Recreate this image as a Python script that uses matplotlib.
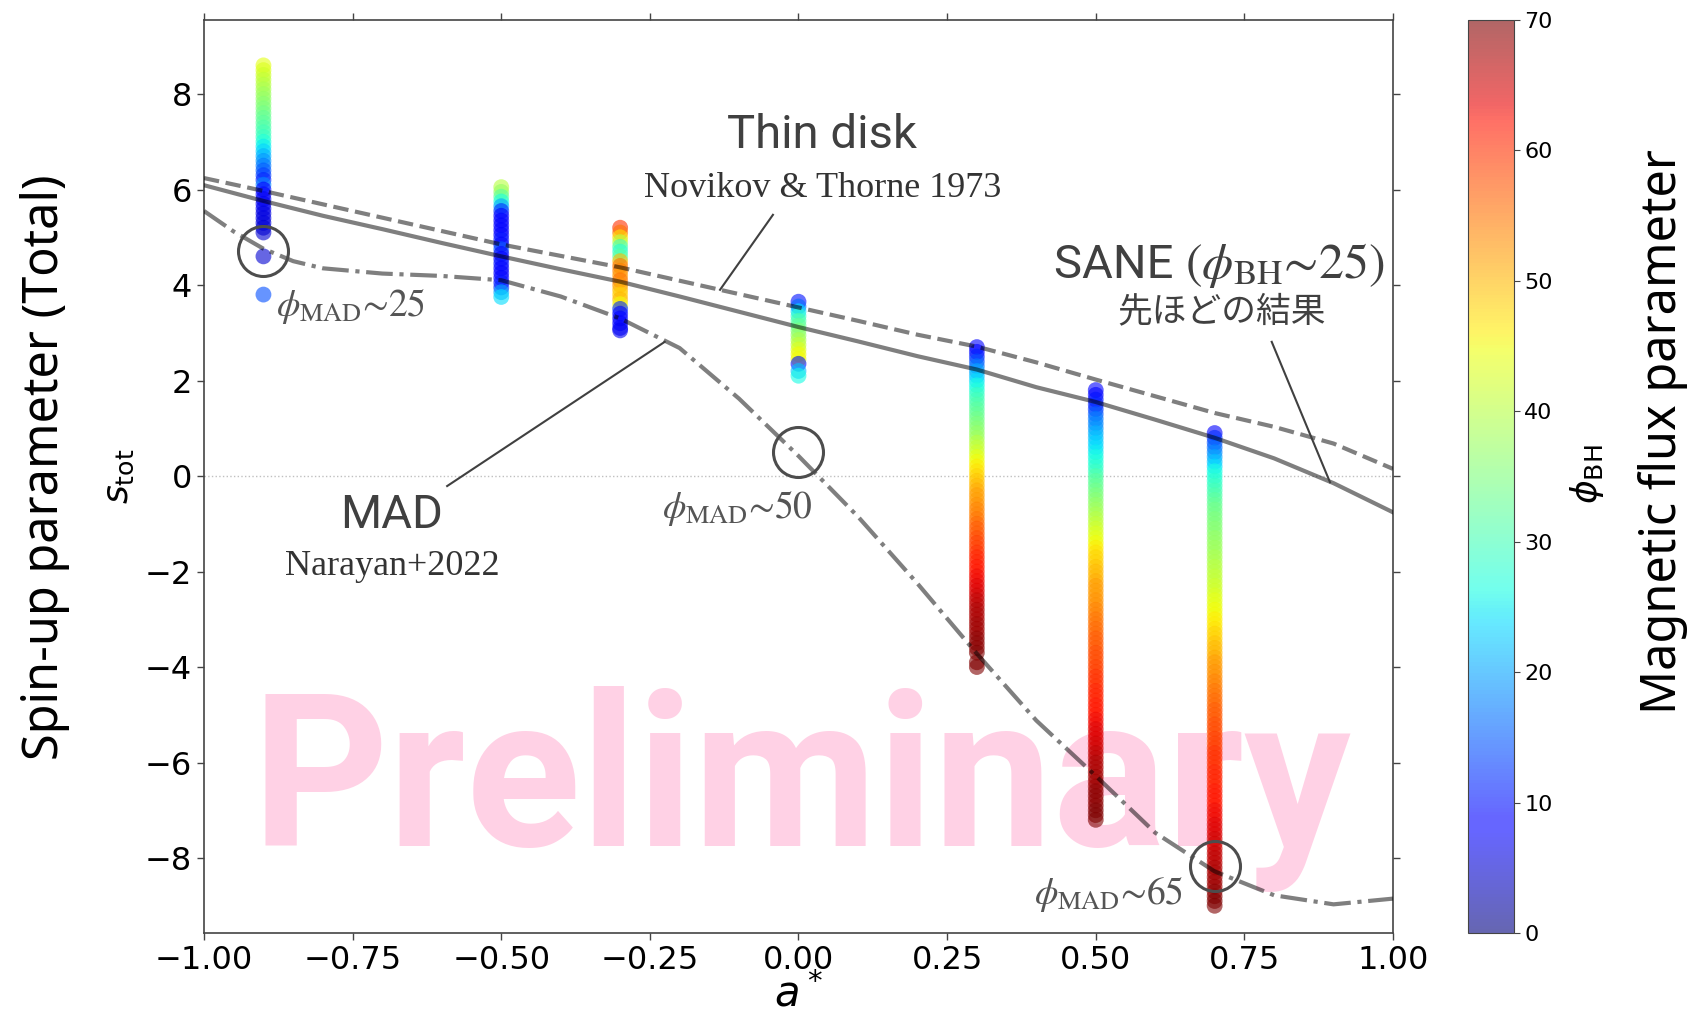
import matplotlib.pyplot as plt
import numpy as np
from matplotlib.colors import Normalize
from matplotlib.cm import ScalarMappable

# spin of each simulation run
a_runs = [-0.9, -0.5, -0.3, 0.0, 0.3, 0.5, 0.7]

# s_tot samples of each run and the phi_BH colour of each sample
s_m09 = [8.6, 8.5, 8.4, 8.3, 8.2, 8.1, 8.0, 7.9, 7.8, 7.7,
         7.6, 7.5, 7.4, 7.3, 7.2, 7.1, 7.0, 6.9, 6.8, 6.7,
         6.6, 6.5, 6.4, 6.3, 6.2, 6.1, 6.0, 5.9, 5.8, 5.7,
         5.6, 5.5, 5.4, 5.3, 5.2, 5.1, 4.6, 3.8]
phi_m09 = [44, 43, 42, 41, 40, 39, 38, 37, 36, 35,
           34, 33, 32, 31, 30, 29, 27, 25, 23, 21,
           19, 17, 15, 13, 11, 18, 9, 8, 7, 7,
           7, 6, 6, 6, 5, 5, 5, 14]

s_m05 = [6.05, 5.95, 5.85, 5.75, 5.65, 5.55, 5.45, 5.35, 5.25, 5.15,
         5.05, 4.95, 4.85, 4.75, 4.65, 4.55, 4.45, 4.35, 4.25, 4.15,
         4.05, 3.95, 3.85, 3.75]
phi_m05 = [40, 37, 32, 27, 20, 12, 9, 8, 8, 9,
           8, 10, 9, 15, 9, 8, 10, 9, 8, 9,
           10, 12, 20, 24]

s_m03 = [5.2, 5.1, 5.0, 4.9, 4.8, 4.7, 4.6, 4.5, 4.4, 4.3,
         4.2, 4.1, 4.0, 3.9, 3.8, 3.7, 3.6, 3.5, 3.4, 3.3,
         3.2, 3.1, 3.05]
phi_m03 = [60, 55, 47, 40, 30, 28, 32, 50, 55, 54,
           52, 55, 53, 50, 48, 50, 45, 12, 9, 8,
           8, 9, 7]

s_0 = [3.65, 3.55, 3.45, 3.35, 3.25, 3.15, 3.05, 2.95, 2.85, 2.75,
       2.65, 2.55, 2.45, 2.35, 2.2, 2.1]
phi_0 = [10, 16, 24, 28, 31, 33, 35, 37, 39, 41,
         43, 45, 45, 10, 22, 26]

s_p03 = [2.7, 2.6, 2.5, 2.4, 2.3, 2.2, 2.1, 2.0, 1.9, 1.8,
         1.7, 1.6, 1.5, 1.4, 1.3, 1.2, 1.1, 1.0, 0.9, 0.8,
         0.7, 0.6, 0.5, 0.4, 0.3, 0.2, 0.1, 0.0, -0.1, -0.2,
         -0.3, -0.4, -0.5, -0.6, -0.7, -0.8, -0.9, -1.0, -1.1, -1.2,
         -1.3, -1.4, -1.5, -1.6, -1.7, -1.8, -1.9, -2.0, -2.1, -2.2,
         -2.3, -2.4, -2.5, -2.6, -2.7, -2.8, -2.9, -3.0, -3.1, -3.2,
         -3.3, -3.4, -3.5, -3.6, -3.7, -3.9, -4.0]
phi_p03 = [8, 9, 11, 14, 17, 20, 22, 24, 26, 27,
           29, 30, 31, 32, 33, 34, 35, 36, 37, 38,
           40, 41, 42, 44, 45, 46, 47, 48, 49, 50,
           51, 52, 52, 53, 54, 54, 55, 56, 57, 57,
           58, 59, 59, 60, 61, 61, 62, 62, 63, 63,
           64, 64, 65, 66, 66, 67, 67, 67, 68, 68,
           68, 69, 69, 69, 70, 70, 70]

s_p05 = [1.8, 1.7, 1.6, 1.5, 1.4, 1.3, 1.2, 1.1, 1.0, 0.9,
         0.8, 0.7, 0.6, 0.5, 0.4, 0.3, 0.2, 0.1, 0.0, -0.1,
         -0.2, -0.3, -0.4, -0.5, -0.6, -0.7, -0.8, -0.9, -1.0, -1.1,
         -1.2, -1.3, -1.4, -1.5, -1.6, -1.7, -1.8, -1.9, -2.0, -2.1,
         -2.2, -2.3, -2.4, -2.5, -2.6, -2.7, -2.8, -2.9, -3.0, -3.1,
         -3.2, -3.3, -3.4, -3.5, -3.6, -3.7, -3.8, -3.9, -4.0, -4.1,
         -4.2, -4.3, -4.4, -4.5, -4.6, -4.7, -4.8, -4.9, -5.0, -5.1,
         -5.2, -5.3, -5.4, -5.5, -5.6, -5.7, -5.8, -5.9, -6.0, -6.1,
         -6.2, -6.3, -6.4, -6.5, -6.6, -6.7, -6.8, -6.9, -7.0, -7.1,
         -7.2]
phi_p05 = [8, 9, 10, 11, 12, 15, 17, 18, 19, 21,
           22, 23, 24, 25, 26, 27, 28, 29, 31, 32,
           33, 34, 35, 36, 37, 38, 39, 40, 41, 42,
           43, 44, 45, 46, 47, 48, 48, 49, 50, 50,
           51, 52, 52, 52, 53, 53, 54, 54, 55, 55,
           56, 56, 57, 57, 57, 58, 58, 58, 59, 59,
           60, 60, 60, 61, 61, 61, 62, 62, 62, 63,
           63, 64, 64, 64, 65, 65, 66, 66, 67, 67,
           67, 68, 68, 68, 69, 69, 69, 69, 70, 70,
           70]

s_p07 = [0.9, 0.8, 0.7, 0.6, 0.5, 0.4, 0.3, 0.2, 0.1, 0.0,
         -0.1, -0.2, -0.3, -0.4, -0.5, -0.6, -0.7, -0.8, -0.9, -1.0,
         -1.1, -1.2, -1.3, -1.4, -1.5, -1.6, -1.7, -1.8, -1.9, -2.0,
         -2.1, -2.2, -2.3, -2.4, -2.5, -2.6, -2.7, -2.8, -2.9, -3.0,
         -3.1, -3.2, -3.3, -3.4, -3.5, -3.6, -3.7, -3.8, -3.9, -4.0,
         -4.1, -4.2, -4.3, -4.4, -4.5, -4.6, -4.7, -4.8, -4.9, -5.0,
         -5.1, -5.2, -5.3, -5.4, -5.5, -5.6, -5.7, -5.8, -5.9, -6.0,
         -6.1, -6.2, -6.3, -6.4, -6.5, -6.6, -6.7, -6.8, -6.9, -7.0,
         -7.1, -7.2, -7.3, -7.4, -7.5, -7.6, -7.7, -7.8, -7.9, -8.0,
         -8.1, -8.2, -8.3, -8.4, -8.5, -8.6, -8.7, -8.8, -8.9, -9.0]
phi_p07 = [8, 12, 14, 16, 18, 20, 22, 24, 26, 27,
           28, 29, 30, 31, 32, 33, 34, 34, 35, 35,
           36, 36, 37, 37, 38, 38, 39, 39, 40, 40,
           41, 41, 42, 42, 43, 44, 44, 45, 45, 46,
           46, 47, 48, 48, 49, 50, 50, 51, 52, 52,
           53, 53, 54, 54, 55, 55, 56, 56, 57, 57,
           57, 58, 58, 58, 59, 59, 59, 60, 60, 60,
           60, 61, 61, 61, 61, 62, 62, 62, 62, 63,
           63, 63, 64, 64, 64, 65, 65, 65, 66, 66,
           66, 67, 67, 68, 68, 68, 69, 69, 70, 70]

s_runs = [s_m09, s_m05, s_m03, s_0, s_p03, s_p05, s_p07]
phi_runs = [phi_m09, phi_m05, phi_m03, phi_0, phi_p03, phi_p05, phi_p07]

# model curves
a_curve = [-1.0, -0.9, -0.8, -0.7, -0.6, -0.5, -0.4, -0.3, -0.2, -0.1, 0.0,
           0.1, 0.2, 0.3, 0.4, 0.5, 0.6, 0.7, 0.8, 0.9, 1.0]
s_thin = [6.24, 5.97, 5.69, 5.41, 5.13, 4.85, 4.61, 4.37, 4.09, 3.81, 3.53,
          3.25, 2.96, 2.71, 2.38, 2.02, 1.67, 1.32, 1.03, 0.68, 0.15]
s_sane = [6.09, 5.76, 5.45, 5.17, 4.88, 4.60, 4.33, 4.07, 3.76, 3.44, 3.12,
          2.82, 2.51, 2.23, 1.86, 1.55, 1.18, 0.80, 0.37, -0.15, -0.76]
a_mad = [-1.0, -0.95, -0.9, -0.85, -0.8, -0.7, -0.6, -0.5, -0.4, -0.3, -0.2,
         -0.1, 0.0, 0.1, 0.2, 0.3, 0.4, 0.5, 0.6, 0.7, 0.8, 0.9, 1.0]
s_mad = [5.55, 5.12, 4.76, 4.50, 4.35, 4.24, 4.19, 4.10, 3.76, 3.30, 2.68,
         1.62, 0.42, -0.85, -2.25, -3.72, -5.12, -6.28, -7.47, -8.28, -8.78,
         -8.97, -8.85]

# highlighted MAD points
circ_a = [-0.9, 0.0, 0.7]
circ_s = [4.71, 0.5, -8.16]
circ_phi = ['25', '50', '65']
circ_label_xy = [(-0.753, 3.35), (-0.103, -0.88), (0.522, -8.96)]

W, H = 1690, 1018
fig = plt.figure(figsize=(W / 100, H / 100), dpi=100)
ax = fig.add_axes([204 / W, 1 - 933 / H, 1189 / W, 913 / H])
cax = fig.add_axes([1468 / W, 1 - 933 / H, 46 / W, 913 / H])

norm = Normalize(vmin=0, vmax=70)

ax.text(0.005, -7.74, 'Preliminary', family='Roboto', fontweight='bold',
        fontsize=153, color='#ffd1e5', ha='center', va='baseline', zorder=0.5)

ax.axhline(0, color='#c0c0c0', ls=':', lw=1, zorder=1)

for a, s, phi in zip(a_runs, s_runs, phi_runs):
    ax.scatter(np.full(len(s), a), s, c=phi, cmap='jet', norm=norm, s=130,
               alpha=0.6, linewidths=0, zorder=2)

ax.plot(a_curve, s_thin, color='k', alpha=0.5, lw=3, ls='--', zorder=3)
ax.plot(a_curve, s_sane, color='k', alpha=0.5, lw=3, ls='-', zorder=3)
ax.plot(a_mad, s_mad, color='k', alpha=0.5, lw=3, ls='-.', zorder=3)

ax.plot(circ_a, circ_s, 'o', ms=36, mfc='none', mec='#4d4d4d', mew=2.2,
        zorder=4)
for val, (x, y) in zip(circ_phi, circ_label_xy):
    ax.text(x, y, r'$\phi_{\mathrm{MAD}}$' + '\u223c' + val, fontsize=27,
            color='#555555', family='STIXGeneral', math_fontfamily='stix',
            ha='center', va='baseline', zorder=5)

# labels of the model curves
ax.text(0.04, 6.87, 'Thin disk', family='Roboto', fontsize=34,
        color='#404040', ha='center', va='baseline', zorder=5)
ax.text(0.04, 5.84, 'Novikov & Thorne 1973', family='Liberation Serif',
        fontsize=26, color='#333333', ha='center', va='baseline', zorder=5)
ax.plot([-0.043, -0.132], [5.47, 3.90], color='#404040', lw=1.5, zorder=5)

ax.text(0.65, 4.15, 'SANE ', family='Roboto', fontsize=34, color='#404040',
        ha='right', va='baseline', zorder=5)
ax.text(0.65, 4.15, r'$(\phi_{\mathrm{BH}}$' + '\u223c25)', family='STIXGeneral',
        math_fontfamily='stix', fontsize=36, color='#404040', ha='left',
        va='baseline', zorder=5)
ax.text(0.712, 3.44, '先ほどの結果', family=['Noto Sans CJK JP', 'DejaVu Sans'],
        fontsize=25, color='#404040', ha='center', va='center', zorder=5)
ax.plot([0.796, 0.894], [2.81, -0.13], color='#404040', lw=1.5, zorder=5)

ax.text(-0.684, -1.08, 'MAD', family='Roboto', fontsize=34, color='#404040',
        ha='center', va='baseline', zorder=5)
ax.text(-0.684, -2.07, 'Narayan+2022', family='Liberation Serif', fontsize=26,
        color='#333333', ha='center', va='baseline', zorder=5)
ax.plot([-0.591, -0.225], [-0.21, 2.81], color='#404040', lw=1.5, zorder=5)

ax.set_xlim(-1, 1)
ax.set_ylim(-9.57, 9.55)
ax.set_xticks(np.arange(-1, 1.01, 0.25))
ax.set_yticks(np.arange(-8, 9, 2))
ax.tick_params(direction='out', top=True, right=True, length=5, width=1,
               labelsize=23, color='#444444')
for sp in ax.spines.values():
    sp.set_color('#444444')
    sp.set_linewidth(1.2)

# two-decimal tick labels with a real minus sign
ax.set_xticklabels([('%.2f' % v).replace('-', '\u2212') for v in ax.get_xticks()])

ax.set_xlabel(r'$a^*$', fontsize=30)
ax.xaxis.set_label_coords(0.5, -0.044)
ax.set_ylabel(r'$s_{\rm tot}$', fontsize=26)
ax.yaxis.set_label_coords(-0.057, 0.5)

sm = ScalarMappable(norm=norm, cmap='jet')
cbar = fig.colorbar(sm, cax=cax, alpha=0.6)
cbar.set_ticks(np.arange(0, 71, 10))
cbar.ax.tick_params(labelsize=16, length=4, color='#444444')
cbar.outline.set_edgecolor('#444444')
fig.text(1587 / W, 1 - 474 / H, r'$\phi_{\rm BH}$', fontsize=26, rotation=90,
         ha='center', va='center')

fig.text(45 / W, 1 - 467 / H, 'Spin-up parameter (Total)', family='Noto Sans',
         fontsize=35, rotation=90, ha='center', va='center')
fig.text(1663 / W, 1 - 432 / H, 'Magnetic flux parameter', family='Noto Sans',
         fontsize=35, rotation=90, ha='center', va='center')

fig.savefig('out.png', dpi=100)
